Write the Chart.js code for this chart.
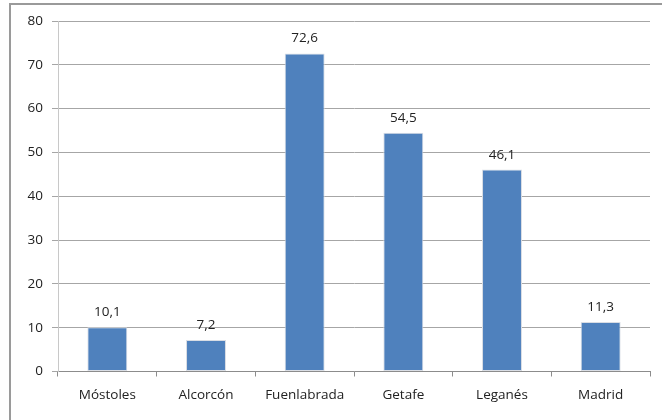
<!DOCTYPE html>
<html>
<head>
<meta charset="utf-8">
<script src="https://cdn.jsdelivr.net/npm/chart.js@4"></script>
<style>
  html, body { margin: 0; padding: 0; background: #fff; }
  #wrap { position: relative; width: 662px; height: 420px; overflow: hidden; }
  #frame { position: absolute; left: 9px; top: 3px; width: 700px; height: 500px; border: 2px solid #9a9a9a; box-sizing: border-box; }
  canvas { position: absolute; left: 0; top: 0; }
</style>
</head>
<body>
<div id="wrap">
  <div id="frame"></div>
  <canvas id="c" width="662" height="420"></canvas>
</div>
<script>
const categories = ["Móstoles", "Alcorcón", "Fuenlabrada", "Getafe", "Leganés", "Madrid"];
const values = [10.1, 7.2, 72.6, 54.5, 46.1, 11.3];
const yTicks = [0, 10, 20, 30, 40, 50, 60, 70, 80];

const FONT = "'Open Sans', 'Noto Sans', sans-serif";

const valueLabels = {
  id: 'valueLabels',
  afterDatasetsDraw(chart) {
    const ctx = chart.ctx;
    const meta = chart.getDatasetMeta(0);
    ctx.save();
    ctx.font = "13.5px " + FONT;
    ctx.fillStyle = "#222222";
    ctx.textAlign = "center";
    ctx.textBaseline = "alphabetic";
    meta.data.forEach((bar, i) => {
      const txt = values[i].toFixed(1).replace('.', ',');
      ctx.fillText(txt, bar.x, bar.y - 11);
    });
    ctx.restore();
  }
};

new Chart(document.getElementById('c'), {
  type: 'bar',
  data: {
    labels: categories,
    datasets: [{
      data: values,
      backgroundColor: '#4f81bd',
      borderColor: '#d9dde4',
      borderWidth: 1,
      borderSkipped: false,
      categoryPercentage: 1.0,
      barPercentage: 0.405
    }]
  },
  options: {
    responsive: false,
    animation: false,
    devicePixelRatio: 1,
    layout: { padding: { top: 21, right: 12, bottom: 0, left: 0 } },
    plugins: { legend: { display: false }, tooltip: { enabled: false } },
    scales: {
      x: {
        offset: true,
        grid: { offset: true, drawOnChartArea: false, drawTicks: true, tickLength: 5, color: '#8c8c8c' },
        border: { display: true, color: '#8c8c8c', width: 1 },
        ticks: { font: { family: FONT, size: 13.5 }, color: '#222222', padding: 11, maxRotation: 0 },
        afterFit(scale) { scale.height = 48.5; }
      },
      y: {
        min: 0, max: 80,
        afterBuildTicks(scale) { scale.ticks = yTicks.map(v => ({ value: v })); },
        grid: { color: '#a6a6a6', tickLength: 6 },
        border: { display: true, color: '#c8c8c8', width: 1 },
        ticks: { font: { family: FONT, size: 13.5 }, color: '#222222', padding: 9 },
        afterFit(scale) { scale.width = 58; }
      }
    }
  },
  plugins: [valueLabels]
});
</script>
</body>
</html>
